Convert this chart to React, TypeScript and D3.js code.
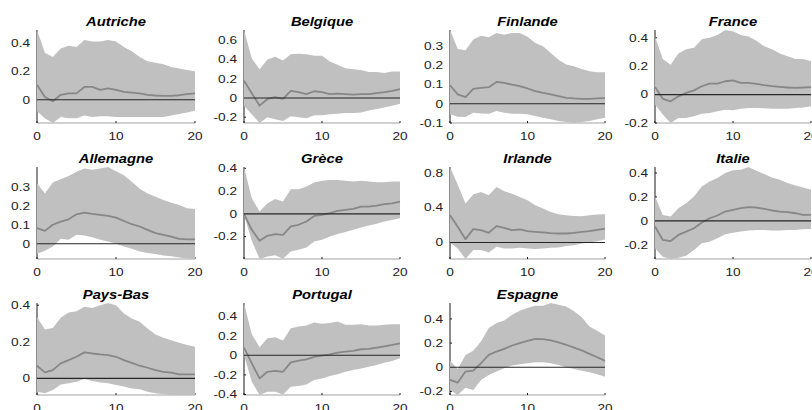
import React from 'react';
import * as d3 from 'd3';

// ---------- DATA ----------
const horizons = [0, 1, 2, 3, 4, 5, 6, 7, 8, 9, 10, 11, 12, 13, 14, 15, 16, 17, 18, 19, 20];
const xTicks = [0, 10, 20];
const countries = ['Autriche', 'Belgique', 'Finlande', 'France', 'Allemagne', 'Grèce', 'Irlande', 'Italie', 'Pays-Bas', 'Portugal', 'Espagne'];

const autricheUpper = [0.49, 0.33, 0.30, 0.36, 0.38, 0.37, 0.42, 0.41, 0.41, 0.42, 0.41, 0.37, 0.34, 0.30, 0.27, 0.26, 0.25, 0.23, 0.22, 0.21, 0.20];
const autricheMean = [0.105, 0.02, -0.01, 0.035, 0.045, 0.045, 0.09, 0.09, 0.07, 0.08, 0.07, 0.055, 0.05, 0.045, 0.035, 0.03, 0.028, 0.028, 0.032, 0.04, 0.045];
const autricheLower = [-0.08, -0.13, -0.163, -0.12, -0.13, -0.13, -0.11, -0.12, -0.115, -0.115, -0.12, -0.12, -0.12, -0.12, -0.12, -0.12, -0.12, -0.11, -0.10, -0.09, -0.077];
const autricheTicks = [0, 0.2, 0.4];

const belgiqueUpper = [0.707, 0.41, 0.30, 0.40, 0.43, 0.39, 0.455, 0.46, 0.455, 0.44, 0.44, 0.38, 0.345, 0.31, 0.30, 0.29, 0.27, 0.27, 0.26, 0.275, 0.275];
const belgiqueMean = [0.18, 0.05, -0.08, -0.01, 0.01, -0.01, 0.075, 0.06, 0.04, 0.07, 0.06, 0.04, 0.045, 0.04, 0.035, 0.04, 0.04, 0.05, 0.06, 0.075, 0.093];
const belgiqueLower = [-0.08, -0.17, -0.26, -0.2, -0.22, -0.24, -0.19, -0.2, -0.21, -0.18, -0.18, -0.17, -0.165, -0.155, -0.155, -0.15, -0.13, -0.115, -0.1, -0.08, -0.06];
const belgiqueTicks = [-0.2, 0, 0.2, 0.4, 0.6];

const finlandeUpper = [0.385, 0.286, 0.28, 0.335, 0.355, 0.347, 0.37, 0.36, 0.37, 0.37, 0.35, 0.317, 0.3, 0.265, 0.23, 0.205, 0.196, 0.182, 0.17, 0.165, 0.165];
const finlandeMean = [0.097, 0.049, 0.035, 0.078, 0.083, 0.087, 0.114, 0.109, 0.1, 0.092, 0.08, 0.066, 0.057, 0.049, 0.04, 0.031, 0.028, 0.026, 0.026, 0.028, 0.03];
const finlandeLower = [-0.055, -0.068, -0.069, -0.047, -0.05, -0.052, -0.038, -0.047, -0.052, -0.052, -0.055, -0.064, -0.073, -0.081, -0.09, -0.095, -0.1, -0.095, -0.09, -0.081, -0.073];
const finlandeTicks = [-0.1, 0, 0.1, 0.2, 0.3];

const franceUpper = [0.41, 0.25, 0.21, 0.29, 0.32, 0.33, 0.39, 0.40, 0.42, 0.455, 0.447, 0.42, 0.41, 0.38, 0.34, 0.32, 0.29, 0.27, 0.25, 0.25, 0.235];
const franceMean = [0.054, -0.03, -0.047, -0.012, 0.012, 0.03, 0.059, 0.078, 0.078, 0.094, 0.1, 0.082, 0.082, 0.075, 0.066, 0.059, 0.054, 0.05, 0.047, 0.05, 0.052];
const franceLower = [-0.07, -0.14, -0.2, -0.165, -0.165, -0.153, -0.134, -0.13, -0.118, -0.106, -0.11, -0.1, -0.094, -0.094, -0.096, -0.1, -0.1, -0.099, -0.094, -0.09, -0.082];
const franceTicks = [-0.2, 0, 0.2, 0.4];

const allemagneUpper = [0.318, 0.265, 0.323, 0.339, 0.356, 0.379, 0.396, 0.39, 0.396, 0.404, 0.382, 0.361, 0.326, 0.29, 0.265, 0.248, 0.23, 0.216, 0.204, 0.187, 0.183];
const allemagneMean = [0.082, 0.068, 0.1, 0.117, 0.129, 0.155, 0.164, 0.157, 0.152, 0.147, 0.138, 0.12, 0.103, 0.091, 0.073, 0.056, 0.047, 0.038, 0.026, 0.023, 0.023];
const allemagneLower = [-0.052, -0.037, -0.014, 0.026, 0.021, 0.047, 0.044, 0.035, 0.021, 0.012, 0.0, -0.014, -0.026, -0.04, -0.049, -0.054, -0.061, -0.066, -0.072, -0.077, -0.08];
const allemagneTicks = [0, 0.1, 0.2, 0.3];

const greceUpper = [0.412, 0.137, 0.02, 0.094, 0.13, 0.108, 0.216, 0.216, 0.24, 0.275, 0.292, 0.298, 0.298, 0.292, 0.284, 0.29, 0.284, 0.278, 0.278, 0.284, 0.284];
const greceMean = [0.0, -0.14, -0.237, -0.193, -0.178, -0.184, -0.111, -0.096, -0.067, -0.018, -0.009, 0.006, 0.026, 0.035, 0.044, 0.064, 0.064, 0.073, 0.085, 0.093, 0.108];
const greceLower = [-0.01, -0.237, -0.397, -0.374, -0.365, -0.394, -0.33, -0.316, -0.295, -0.243, -0.228, -0.199, -0.178, -0.16, -0.14, -0.12, -0.102, -0.088, -0.067, -0.053, -0.038];
const greceTicks = [-0.2, 0, 0.2, 0.4];

const irlandeUpper = [0.867, 0.664, 0.447, 0.55, 0.58, 0.542, 0.637, 0.588, 0.561, 0.523, 0.485, 0.427, 0.389, 0.351, 0.324, 0.313, 0.305, 0.302, 0.313, 0.32, 0.324];
const irlandeMean = [0.313, 0.18, 0.038, 0.153, 0.141, 0.111, 0.187, 0.168, 0.141, 0.149, 0.13, 0.122, 0.115, 0.107, 0.103, 0.103, 0.111, 0.122, 0.13, 0.145, 0.16];
const irlandeLower = [0.0, -0.069, -0.19, -0.088, -0.088, -0.115, -0.05, -0.069, -0.069, -0.061, -0.069, -0.076, -0.069, -0.061, -0.057, -0.042, -0.031, -0.011, 0.0, 0.015, 0.034];
const irlandeTicks = [0, 0.4, 0.8];

const italieUpper = [0.204, 0.05, 0.036, 0.106, 0.148, 0.204, 0.288, 0.33, 0.358, 0.4, 0.422, 0.427, 0.45, 0.419, 0.391, 0.363, 0.344, 0.316, 0.296, 0.279, 0.26];
const italieMean = [-0.047, -0.159, -0.168, -0.117, -0.089, -0.061, -0.014, 0.022, 0.045, 0.078, 0.092, 0.106, 0.115, 0.112, 0.1, 0.087, 0.078, 0.073, 0.064, 0.05, 0.05];
const italieLower = [-0.229, -0.299, -0.318, -0.307, -0.29, -0.243, -0.187, -0.173, -0.145, -0.112, -0.098, -0.089, -0.081, -0.075, -0.075, -0.081, -0.081, -0.075, -0.075, -0.07, -0.067];
const italieTicks = [-0.2, 0, 0.2, 0.4];

const paysBasUpper = [0.336, 0.267, 0.276, 0.331, 0.36, 0.367, 0.391, 0.385, 0.4, 0.412, 0.4, 0.355, 0.327, 0.309, 0.273, 0.24, 0.222, 0.209, 0.195, 0.182, 0.173];
const paysBasMean = [0.069, 0.033, 0.045, 0.082, 0.1, 0.118, 0.142, 0.136, 0.131, 0.127, 0.118, 0.1, 0.085, 0.069, 0.058, 0.045, 0.036, 0.031, 0.022, 0.022, 0.022];
const paysBasLower = [-0.073, -0.082, -0.064, -0.033, -0.027, -0.018, -0.004, -0.015, -0.022, -0.027, -0.036, -0.045, -0.055, -0.06, -0.073, -0.082, -0.087, -0.091, -0.091, -0.091, -0.091];
const paysBasTicks = [0, 0.2, 0.4];

const portugalUpper = [0.534, 0.216, 0.082, 0.175, 0.185, 0.151, 0.277, 0.295, 0.305, 0.336, 0.322, 0.329, 0.346, 0.312, 0.312, 0.318, 0.305, 0.305, 0.312, 0.318, 0.318];
const portugalMean = [0.079, -0.082, -0.236, -0.168, -0.158, -0.168, -0.072, -0.055, -0.041, -0.017, -0.003, 0.01, 0.027, 0.038, 0.045, 0.062, 0.065, 0.079, 0.092, 0.106, 0.123];
const portugalLower = [0.003, -0.27, -0.405, -0.373, -0.373, -0.4, -0.322, -0.312, -0.298, -0.253, -0.236, -0.212, -0.192, -0.168, -0.151, -0.134, -0.116, -0.099, -0.075, -0.058, -0.031];
const portugalTicks = [-0.4, -0.2, 0, 0.2, 0.4];

const espagneUpper = [0.053, -0.014, 0.102, 0.136, 0.213, 0.324, 0.366, 0.388, 0.435, 0.468, 0.49, 0.51, 0.51, 0.532, 0.518, 0.504, 0.463, 0.413, 0.338, 0.302, 0.263];
const espagneMean = [-0.105, -0.127, -0.036, -0.028, 0.033, 0.102, 0.13, 0.152, 0.18, 0.2, 0.219, 0.235, 0.233, 0.222, 0.205, 0.186, 0.163, 0.139, 0.111, 0.083, 0.053];
const espagneLower = [-0.188, -0.23, -0.169, -0.188, -0.105, -0.064, -0.036, -0.008, 0.014, 0.025, 0.033, 0.042, 0.042, 0.033, 0.019, 0.0, -0.014, -0.03, -0.042, -0.058, -0.078];
const espagneTicks = [-0.2, 0, 0.2, 0.4];

const panels = [
  { name: countries[0], upper: autricheUpper, mean: autricheMean, lower: autricheLower, yTicks: autricheTicks },
  { name: countries[1], upper: belgiqueUpper, mean: belgiqueMean, lower: belgiqueLower, yTicks: belgiqueTicks },
  { name: countries[2], upper: finlandeUpper, mean: finlandeMean, lower: finlandeLower, yTicks: finlandeTicks },
  { name: countries[3], upper: franceUpper, mean: franceMean, lower: franceLower, yTicks: franceTicks },
  { name: countries[4], upper: allemagneUpper, mean: allemagneMean, lower: allemagneLower, yTicks: allemagneTicks },
  { name: countries[5], upper: greceUpper, mean: greceMean, lower: greceLower, yTicks: greceTicks },
  { name: countries[6], upper: irlandeUpper, mean: irlandeMean, lower: irlandeLower, yTicks: irlandeTicks },
  { name: countries[7], upper: italieUpper, mean: italieMean, lower: italieLower, yTicks: italieTicks },
  { name: countries[8], upper: paysBasUpper, mean: paysBasMean, lower: paysBasLower, yTicks: paysBasTicks },
  { name: countries[9], upper: portugalUpper, mean: portugalMean, lower: portugalLower, yTicks: portugalTicks },
  { name: countries[10], upper: espagneUpper, mean: espagneMean, lower: espagneLower, yTicks: espagneTicks },
];

// ---------- LAYOUT ----------
const W = 812;
const H = 410;
const colLeft = [37, 244, 450, 655];
const colRight = [195, 400, 605, 811];
const rowTop = [30, 167, 303];
const rowBottom = [123, 259, 395];
const FONT = "'Liberation Sans', Arial, Helvetica, sans-serif";
const TICK_SX = 1.3;
const TITLE_SX = 1.18;

type PanelData = { name: string; upper: number[]; mean: number[]; lower: number[]; yTicks: number[] };

function Panel({ p, i }: { p: PanelData; i: number }) {
  const row = Math.floor(i / 4);
  const col = i % 4;
  const x0 = colLeft[col];
  const x1 = colRight[col];
  const y0 = rowTop[row];
  const y1 = rowBottom[row];
  const x = d3.scaleLinear().domain([0, 20]).range([x0, x1]);
  const lo = d3.min(p.lower) as number;
  const hi = d3.max(p.upper) as number;
  const y = d3.scaleLinear().domain([lo, hi]).range([y1, y0]);

  const area = d3
    .area<number>()
    .x((_, k) => x(horizons[k]))
    .y0((_, k) => y(p.lower[k]))
    .y1((_, k) => y(p.upper[k]));
  const line = d3
    .line<number>()
    .x((_, k) => x(horizons[k]))
    .y((d) => y(d));

  const tl = 2;
  return (
    <g>
      {/* axes (drawn below the band) */}
      <line x1={x0} x2={x0} y1={y0} y2={y1} stroke="#1a1a1a" strokeWidth={1} />
      <line x1={x0} x2={x1} y1={y1} y2={y1} stroke="#8a8a8a" strokeWidth={0.8} />
      {p.yTicks.map((t) => (
        <line key={'yt' + t} x1={x0} x2={x0 + tl} y1={y(t)} y2={y(t)} stroke="#1a1a1a" strokeWidth={1} />
      ))}
      {xTicks.map((t) => (
        <line key={'xt' + t} x1={x(t)} x2={x(t)} y1={y1} y2={y1 - tl} stroke="#1a1a1a" strokeWidth={1} />
      ))}
      <path d={area(p.mean) || ''} fill="#c0c0c0" stroke="none" />
      <path d={line(p.mean) || ''} fill="none" stroke="#878787" strokeWidth={1.8} strokeLinejoin="round" />
      <line x1={x0} x2={x1} y1={y(0)} y2={y(0)} stroke="#262626" strokeWidth={1.1} />
      {/* tick labels */}
      {p.yTicks.map((t) => (
        <text
          key={'yl' + t}
          transform={`translate(${x0 - 7},${y(t)}) scale(${TICK_SX},1)`}
          dy="0.36em"
          textAnchor="end"
          fontFamily={FONT}
          fontSize={10.5}
          fill="#222"
        >
          {String(t)}
        </text>
      ))}
      {xTicks.map((t) => (
        <text
          key={'xl' + t}
          transform={`translate(${x(t)},${y1 + 16.5}) scale(${TICK_SX},1)`}
          textAnchor="middle"
          fontFamily={FONT}
          fontSize={10.5}
          fill="#222"
        >
          {String(t)}
        </text>
      ))}
      <text
        transform={`translate(${(x0 + x1) / 2},${y0 - 4}) scale(${TITLE_SX},1)`}
        textAnchor="middle"
        fontFamily={FONT}
        fontSize={12.5}
        fontWeight="bold"
        fontStyle="italic"
        fill="#000"
      >
        {p.name}
      </text>
    </g>
  );
}

export default function App() {
  return (
    <svg
      width={W}
      height={H}
      viewBox={`0 0 ${W} ${H}`}
      style={{ position: 'absolute', left: 0, top: 0, background: '#fff' }}
    >
      <rect x={0} y={0} width={W} height={H} fill="#fff" />
      {panels.map((p, i) => (
        <Panel key={p.name} p={p} i={i} />
      ))}
    </svg>
  );
}
